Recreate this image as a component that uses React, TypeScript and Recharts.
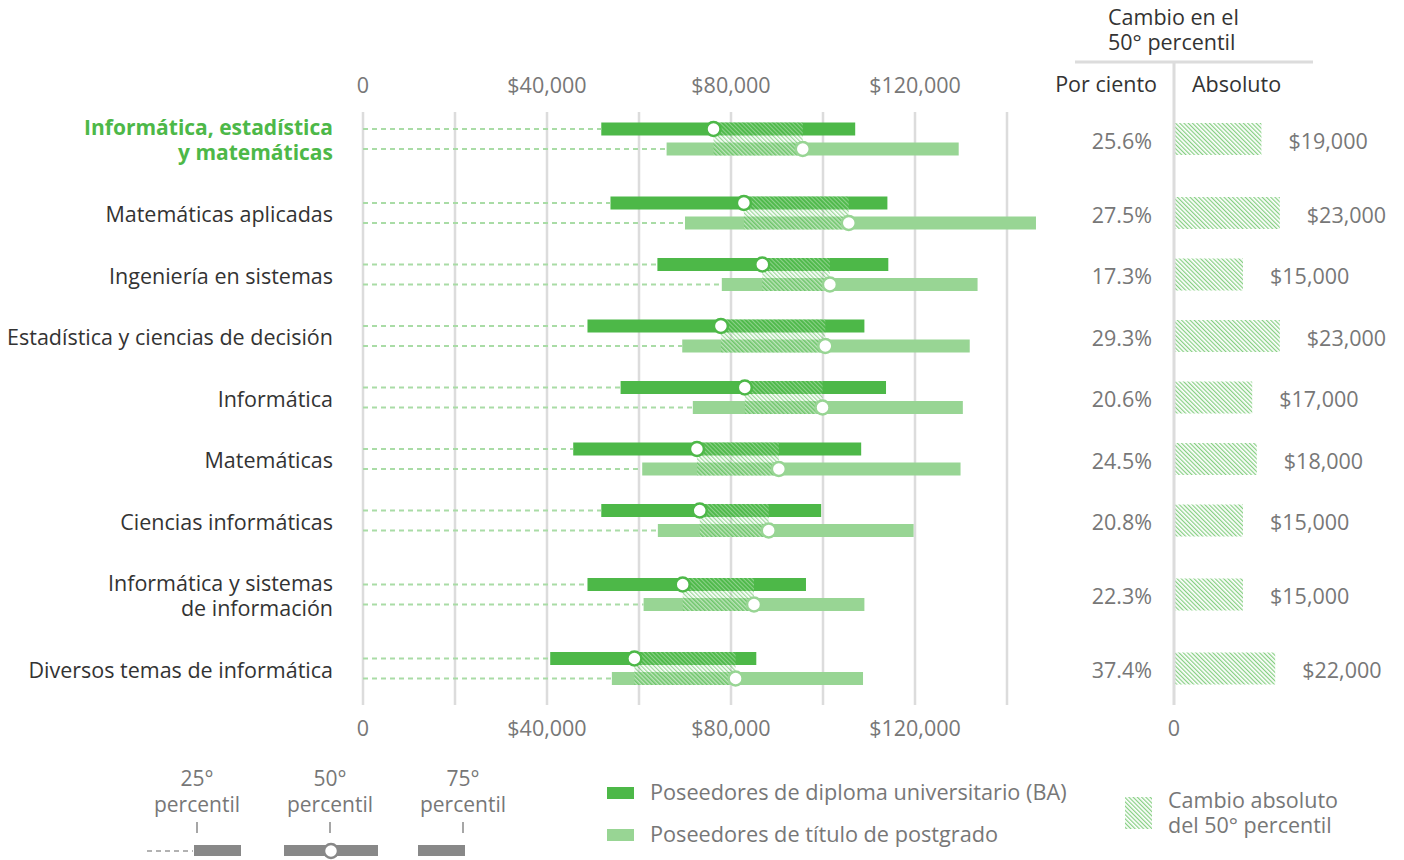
import React from "react";
import {
  ComposedChart,
  XAxis,
  YAxis,
  CartesianGrid,
  ReferenceArea,
  ReferenceLine,
  Scatter,
} from "recharts";

// ---- data ----
const categories = [
  "Informática, estadística\ny matemáticas",
  "Matemáticas aplicadas",
  "Ingeniería en sistemas",
  "Estadística y ciencias de decisión",
  "Informática",
  "Matemáticas",
  "Ciencias informáticas",
  "Informática y sistemas\nde información",
  "Diversos temas de informática",
];
// BA holders: 25th / 50th / 75th percentile earnings
const ba25 = [51800, 53800, 64000, 48800, 56000, 45700, 51800, 48800, 40700];
const ba50 = [76200, 82800, 86800, 77800, 83000, 72600, 73200, 69500, 59000];
const ba75 = [107000, 114000, 114200, 109000, 113700, 108300, 99600, 96300, 85500];
// graduate degree holders
const grad25 = [66000, 70000, 78000, 69400, 71700, 60700, 64100, 61000, 54100];
const grad50 = [95600, 105600, 101500, 100500, 99900, 90400, 88200, 85000, 81000];
const grad75 = [129500, 146300, 133600, 131900, 130400, 129900, 119700, 109000, 108700];
// change in the median
const pctChange = [25.6, 27.5, 17.3, 29.3, 20.6, 24.5, 20.8, 22.3, 37.4];
const absChange = [19000, 23000, 15000, 23000, 17000, 18000, 15000, 15000, 22000];

const axisLabels = [0, 40000, 80000, 120000];
const gridValues = [0, 20000, 40000, 60000, 80000, 100000, 120000, 140000];

const BA = "#4db848";
const GRAD = "#98d594";
const DASH = "#a9dca6";
const GRID = "#dcdcdc";
const TEXT = "#333333";
const MUTED = "#777777";
const FONT = "'Open Sans', 'Noto Sans', sans-serif";
const FS = 21.5;
const FS_NUM = 21.5;

const PLOT_H = 593; // y axis works in pixels of the plot area
const HALF_GAP = 10; // BA bar sits above the row centre, grad bar below
const BAR_H = 13;

// rows next to a two-line label get a wider gap
const rowPos: number[] = [];
categories.forEach((c, i) => {
  if (i === 0) {
    rowPos.push(27);
    return;
  }
  const wide = c.includes("\n") || categories[i - 1].includes("\n");
  rowPos.push(rowPos[i - 1] + (wide ? 74 : 61.5));
});

const money = (v: number) => (v === 0 ? "0" : "$" + v.toLocaleString("en-US"));

const rows = categories.map((c, i) => ({ name: c, x: ba50[i], y: rowPos[i] }));
const changeRows = absChange.map((v, i) => ({ abs: v, y: rowPos[i] }));
const baDots = categories.map((_, i) => ({ x: ba50[i], y: rowPos[i] - HALF_GAP }));
const gradDots = categories.map((_, i) => ({ x: grad50[i], y: rowPos[i] + HALF_GAP }));

// eslint-disable-next-line @typescript-eslint/no-explicit-any
function CategoryTick({ x, y, payload }: any) {
  const idx = rowPos.indexOf(payload.value);
  if (idx < 0) return null;
  const lines = categories[idx].split("\n");
  const first = idx === 0;
  return (
    <text
      x={x}
      y={y}
      textAnchor="end"
      fontSize={first ? 21 : 21.5}
      fontWeight={first ? 700 : 400}
      fill={first ? BA : TEXT}
    >
      {lines.map((l, i) => (
        <tspan key={i} x={x} y={y + 1.5 + (i - (lines.length - 1) / 2) * 25} dy="0.35em">
          {l}
        </tspan>
      ))}
    </text>
  );
}

// eslint-disable-next-line @typescript-eslint/no-explicit-any
function PercentTick({ x, y, payload }: any) {
  const idx = rowPos.indexOf(payload.value);
  if (idx < 0) return null;
  return (
    <text x={x} y={y + 2} dy="0.35em" textAnchor="end" fontSize={FS_NUM} fill={MUTED}>
      {`${pctChange[idx].toFixed(1)}%`}
    </text>
  );
}

// two stacked lines in one text element, given the first baseline
// eslint-disable-next-line @typescript-eslint/no-explicit-any
function TwoLines({ x, y, lines, anchor = "start", size = FS, fill = MUTED }: any) {
  return (
    <text x={x} y={y} fontSize={size} fill={fill} textAnchor={anchor}>
      <tspan x={x} y={y}>{lines[0]}</tspan>
      <tspan x={x} y={y + 25.5}>{lines[1]}</tspan>
    </text>
  );
}

// eslint-disable-next-line @typescript-eslint/no-explicit-any
const dot = (color: string) => (p: any) => (
  <circle cx={p.cx} cy={p.cy} r={7} fill="#fff" stroke={color} strokeWidth={2.5} />
);

function MainChart() {
  const tick = { fill: MUTED, fontSize: FS_NUM };
  return (
    <ComposedChart
      width={1060}
      height={760}
      data={rows}
      margin={{ top: 82, right: 7, bottom: 25, left: 0 }}
    >
      <defs>
        <pattern id="gapHatch" width="3" height="3" patternUnits="userSpaceOnUse" patternTransform="rotate(-45)">
          <rect x="0" y="0" width="1.3" height="3" fill={BA} fillOpacity={0.55} />
          <rect x="1.9" y="0" width="0.9" height="3" fill="#ffffff" fillOpacity={0.45} />
        </pattern>
      </defs>
      <CartesianGrid horizontal={false} verticalValues={gridValues} syncWithTicks stroke={GRID} strokeWidth={2.5} />
      <XAxis
        xAxisId="top"
        orientation="top"
        dataKey="x"
        type="number"
        domain={[0, 150000]}
        allowDataOverflow
        ticks={axisLabels}
        interval={0}
        tickFormatter={money}
        height={30}
        tickSize={0}
        tickMargin={19}
        axisLine={false}
        tickLine={false}
        tick={tick}
      />
      <XAxis
        dataKey="x"
        type="number"
        domain={[0, 150000]}
        allowDataOverflow
        ticks={axisLabels}
        interval={0}
        tickFormatter={money}
        height={30}
        tickSize={0}
        tickMargin={16}
        axisLine={false}
        tickLine={false}
        tick={tick}
      />
      <YAxis
        dataKey="y"
        type="number"
        domain={[0, PLOT_H]}
        allowDataOverflow
        reversed
        ticks={rowPos}
        interval={0}
        width={363}
        tickSize={0}
        tickMargin={30}
        axisLine={false}
        tickLine={false}
        tick={<CategoryTick />}
      />

      {categories.map((_, i) => {
        const yBa = rowPos[i] - HALF_GAP;
        const yGr = rowPos[i] + HALF_GAP;
        return (
          <React.Fragment key={i}>
            <ReferenceLine
              segment={[{ x: 0, y: yBa }, { x: ba25[i], y: yBa }]}
              stroke={DASH}
              strokeWidth={2}
              strokeDasharray="5 4"
            />
            <ReferenceLine
              segment={[{ x: 0, y: yGr }, { x: grad25[i], y: yGr }]}
              stroke={DASH}
              strokeWidth={2}
              strokeDasharray="5 4"
            />
            <ReferenceArea
              x1={ba25[i]}
              x2={ba75[i]}
              y1={yBa - BAR_H / 2}
              y2={yBa + BAR_H / 2}
              fill={BA}
              fillOpacity={1}
              stroke="none"
            />
            <ReferenceArea
              x1={grad25[i]}
              x2={grad75[i]}
              y1={yGr - BAR_H / 2}
              y2={yGr + BAR_H / 2}
              fill={GRAD}
              fillOpacity={1}
              stroke="none"
            />
            <ReferenceArea
              x1={ba50[i]}
              x2={grad50[i]}
              y1={yBa - BAR_H / 2}
              y2={yGr + BAR_H / 2}
              fill="url(#gapHatch)"
              fillOpacity={1}
              stroke="none"
            />
          </React.Fragment>
        );
      })}

      <Scatter data={baDots} isAnimationActive={false} shape={dot(BA)} />
      <Scatter data={gradDots} isAnimationActive={false} shape={dot(GRAD)} />
    </ComposedChart>
  );
}

function ChangeChart() {
  return (
    <ComposedChart
      width={344}
      height={760}
      data={changeRows}
      margin={{ top: 62, right: 0, bottom: 25, left: 0 }}
    >
      <defs>
        <pattern id="absHatch" width="3" height="3" patternUnits="userSpaceOnUse" patternTransform="rotate(-45)">
          <rect x="0" y="0" width="3" height="3" fill="#ffffff" />
          <rect x="0" y="0" width="1.2" height="3" fill="#86cf82" />
        </pattern>
      </defs>
      <XAxis
        dataKey="abs"
        type="number"
        domain={[0, 50000]}
        allowDataOverflow
        ticks={[0]}
        height={30}
        tickSize={0}
        tickMargin={16}
        axisLine={false}
        tickLine={false}
        tick={{ fill: MUTED, fontSize: FS_NUM }}
      />
      <YAxis
        dataKey="y"
        type="number"
        domain={[-50, PLOT_H]}
        allowDataOverflow
        reversed
        ticks={rowPos}
        interval={0}
        width={114}
        tickSize={0}
        tickMargin={22}
        axisLine={{ stroke: GRID, strokeWidth: 3 }}
        tickLine={false}
        tick={<PercentTick />}
      />
      {absChange.map((v, i) => (
        <ReferenceArea
          key={i}
          x1={0}
          x2={v}
          y1={rowPos[i] - 16}
          y2={rowPos[i] + 16}
          fill="url(#absHatch)"
          fillOpacity={1}
          stroke="none"
          label={{ value: money(v), position: "right", offset: 27, fill: MUTED, fontSize: FS_NUM, dy: 2 }}
        />
      ))}
    </ComposedChart>
  );
}

function Overlay() {
  const pct = [
    { x: 197, top: "25°" },
    { x: 330, top: "50°" },
    { x: 463, top: "75°" },
  ];
  return (
    <svg
      width={1404}
      height={860}
      style={{ position: "absolute", left: 0, top: 0, pointerEvents: "none" }}
      fontFamily={FONT}
    >
      <defs>
        <pattern id="legendHatch" width="3" height="3" patternUnits="userSpaceOnUse" patternTransform="rotate(-45)">
          <rect x="0" y="0" width="3" height="3" fill="#ffffff" />
          <rect x="0" y="0" width="1.2" height="3" fill="#86cf82" />
        </pattern>
      </defs>

      {/* header of the change columns */}
      <TwoLines x={1108} y={24.5} lines={["Cambio en el", "50° percentil"]} fill={TEXT} />
      <line x1={1075} x2={1313} y1={62} y2={62} stroke={GRID} strokeWidth={3} />
      <text x={1157} y={92} fontSize={FS} fill={TEXT} textAnchor="end">Por ciento</text>
      <text x={1192} y={92} fontSize={FS} fill={TEXT}>Absoluto</text>

      {/* percentile key */}
      {pct.map((p) => (
        <g key={p.top}>
          <TwoLines x={p.x} y={786} lines={[p.top, "percentil"]} anchor="middle" size={21} />
          <line x1={p.x} x2={p.x} y1={822} y2={833} stroke="#888" strokeWidth={1.5} />
        </g>
      ))}
      <line x1={147} x2={193} y1={851} y2={851} stroke="#999" strokeWidth={1.5} strokeDasharray="5 4" />
      <rect x={194} y={845} width={47} height={11} fill="#888" />
      <rect x={284} y={845} width={94} height={11} fill="#888" />
      <circle cx={331} cy={851} r={7} fill="#fff" stroke="#888" strokeWidth={2.5} />
      <rect x={418} y={845} width={47} height={11} fill="#888" />

      {/* series key */}
      <rect x={607} y={787} width={27} height={12} fill={BA} />
      <text x={650} y={800} fontSize={21.7} fill={MUTED}>Poseedores de diploma universitario (BA)</text>
      <rect x={607} y={829} width={27} height={12} fill={GRAD} />
      <text x={650} y={842} fontSize={21.7} fill={MUTED}>Poseedores de título de postgrado</text>

      <rect x={1125} y={797} width={27} height={32} fill="url(#legendHatch)" />
      <TwoLines x={1168} y={807.5} lines={["Cambio absoluto", "del 50° percentil"]} />
    </svg>
  );
}

export default function App() {
  return (
    <div
      style={{
        position: "absolute",
        left: 0,
        top: 0,
        width: 1404,
        height: 860,
        background: "#fff",
        fontFamily: FONT,
      }}
    >
      <div style={{ position: "absolute", left: 0, top: 0 }}>
        <MainChart />
      </div>
      <div style={{ position: "absolute", left: 1060, top: 0 }}>
        <ChangeChart />
      </div>
      <Overlay />
    </div>
  );
}
